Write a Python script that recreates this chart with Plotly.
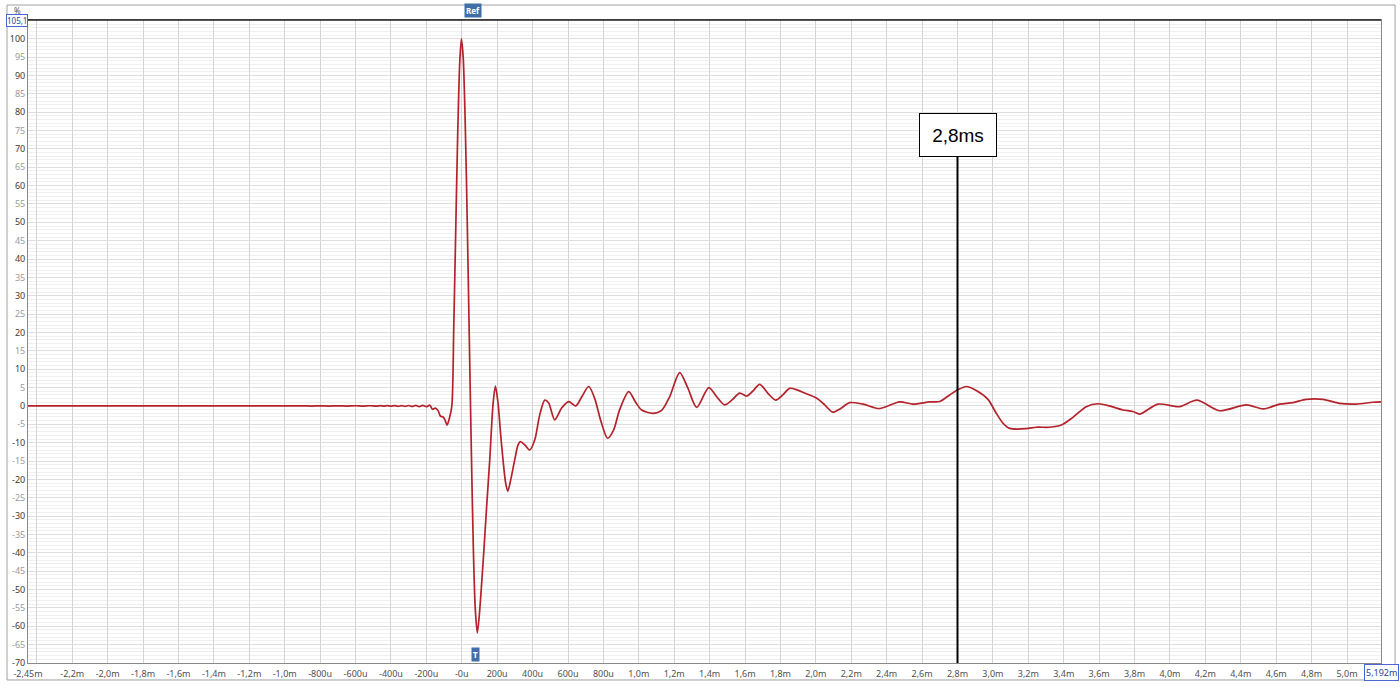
import plotly.graph_objects as go

# ---- data (time in ms, amplitude in %) ----
time_ms = [
    -2.45, -1.60, -1.20, -0.95, -0.90, -0.85, -0.80, -0.75, -0.70, -0.65, -0.60,
    -0.56, -0.52, -0.48, -0.46, -0.44, -0.42, -0.40, -0.38, -0.36, -0.34, -0.32,
    -0.30, -0.28, -0.26, -0.24, -0.22, -0.20, -0.18, -0.165, -0.15, -0.135,
    -0.12, -0.105, -0.095, -0.083, -0.068, -0.056, -0.045, -0.034, -0.023,
    -0.011, -0.002, 0.008, 0.020, 0.031, 0.042, 0.054, 0.065, 0.076, 0.088,
    0.099, 0.107, 0.124, 0.141, 0.158, 0.177, 0.190, 0.205, 0.220, 0.233,
    0.248, 0.260, 0.277, 0.299, 0.318, 0.331, 0.356, 0.384, 0.412, 0.440,
    0.469, 0.491, 0.525, 0.565, 0.604, 0.644, 0.678, 0.717, 0.751, 0.785,
    0.824, 0.858, 0.892, 0.943, 0.982, 1.016, 1.078, 1.129, 1.174, 1.231,
    1.276, 1.327, 1.395, 1.440, 1.485, 1.530, 1.569, 1.609, 1.643, 1.683,
    1.728, 1.773, 1.813, 1.852, 1.897, 1.937, 2.005, 2.050, 2.095, 2.140,
    2.191, 2.266, 2.360, 2.473, 2.548, 2.643, 2.699, 2.756, 2.802, 2.850,
    2.906, 2.972, 3.019, 3.057, 3.094, 3.188, 3.245, 3.320, 3.386, 3.452,
    3.527, 3.593, 3.659, 3.734, 3.790, 3.830, 3.932, 4.054, 4.152, 4.280,
    4.431, 4.529, 4.619, 4.694, 4.770, 4.864, 4.958, 5.052, 5.146, 5.192,
]
amplitude_pct = [
    0.0, 0.0, 0.0, 0.0, 0.03, -0.03, 0.03, -0.03, 0.04, -0.04, 0.05,
    -0.05, 0.06, -0.06, 0.07, -0.07, 0.08, -0.08, 0.1, -0.1, 0.1, -0.12,
    0.12, -0.15, 0.15, -0.18, 0.18, -0.2, 0.2, -0.9, -0.6, -1.2,
    -2.8, -3.0, -3.8, -5.2, -3.0, 0.0, 22.0, 48.0, 74.0,
    94.0, 100.0, 95.0, 76.0, 50.0, 20.0, -12.0, -38.0, -55.0, -61.8,
    -57.0, -52.0, -40.0, -27.0, -14.7, 0.7, 5.4, 0.7, -8.0, -14.7,
    -21.0, -23.2, -20.0, -14.7, -10.6, -9.7, -10.6, -12.0, -9.3, -2.5,
    1.6, 0.8, -3.8, -0.5, 1.2, 0.0, 2.5, 5.3, 2.0, -4.0,
    -8.8, -6.5, -1.0, 3.9, 1.0, -1.1, -2.0, -1.2, 2.5, 9.1,
    5.0, -0.4, 5.0, 2.5, 0.3, 1.8, 3.5, 2.7, 4.0, 5.9,
    3.5, 1.6, 3.0, 4.8, 4.3, 3.5, 2.1, 0.3, -1.7, -0.7,
    0.9, 0.5, -0.7, 1.1, 0.5, 1.1, 1.2, 3.0, 4.4, 5.3,
    4.2, 1.8, -2.0, -4.7, -6.1, -6.2, -5.8, -5.8, -5.2, -3.1,
    -0.2, 0.6, 0.0, -1.1, -1.5, -2.2, 0.5, -0.2, 1.6, -1.3,
    0.3, -0.8, 0.5, 0.9, 1.8, 1.8, 0.7, 0.5, 1.0, 1.1,
]

x_tick_vals = [-2.45, -2.4, -2.2, -2.0, -1.8, -1.6, -1.4, -1.2, -1.0, -0.8, -0.6,
               -0.4, -0.2, 0.0, 0.2, 0.4, 0.6, 0.8, 1.0, 1.2, 1.4, 1.6, 1.8,
               2.0, 2.2, 2.4, 2.6, 2.8, 3.0, 3.2, 3.4, 3.6, 3.8, 4.0, 4.2,
               4.4, 4.6, 4.8, 5.0]
x_tick_text = ["-2,45m", "", "-2,2m", "-2,0m", "-1,8m", "-1,6m", "-1,4m", "-1,2m",
               "-1,0m", "-800u", "-600u", "-400u", "-200u", "-0u", "200u", "400u",
               "600u", "800u", "1,0m", "1,2m", "1,4m", "1,6m", "1,8m", "2,0m",
               "2,2m", "2,4m", "2,6m", "2,8m", "3,0m", "3,2m", "3,4m", "3,6m",
               "3,8m", "4,0m", "4,2m", "4,4m", "4,6m", "4,8m", "5,0m"]
y_tick_vals = [-70, -65, -60, -55, -50, -45, -40, -35, -30, -25, -20, -15, -10, -5,
               0, 5, 10, 15, 20, 25, 30, 35, 40, 45, 50, 55, 60, 65, 70, 75, 80,
               85, 90, 95, 100]

x_range = [-2.45, 5.192]
y_range = [-70, 105.1]
marker_time = 2.8
marker_label = "2,8ms"
ref_time = 0.062
t_time = 0.079

# ---- figure ----
DARK = "#3c3c3c"
LIGHT = "#9a9a9a"
y_tick_text = [
    f"<span style='color:{DARK if v % 10 == 0 else LIGHT}'>{v}</span>" for v in y_tick_vals
]

fig = go.Figure()
fig.add_trace(go.Scatter(
    x=time_ms, y=amplitude_pct, mode="lines",
    line=dict(color="#b3232b", width=1.7, shape="spline", smoothing=0.8),
    hoverinfo="skip", showlegend=False,
))

fig.update_layout(
    width=1400, height=688,
    margin=dict(l=28, r=19, t=20, b=25, autoexpand=False),
    paper_bgcolor="white", plot_bgcolor="white",
    font=dict(family="Noto Sans, DejaVu Sans, sans-serif", size=9, color="#505050"),
    showlegend=False,
)
fig.update_xaxes(
    range=x_range, tickmode="array", tickvals=x_tick_vals, ticktext=x_tick_text,
    showgrid=True, gridcolor="#d4d4d4", gridwidth=1, automargin=False,
    zeroline=False, showline=True, linecolor="#8a8a8a", linewidth=1, mirror=True,
    ticks="", ticklen=0, ticklabelstandoff=2, tickfont=dict(size=9, color="#505050"),
)
fig.update_yaxes(
    range=y_range, tickmode="array", tickvals=y_tick_vals, ticktext=y_tick_text,
    showgrid=True, gridcolor="#dedede", gridwidth=1, automargin=False,
    minor=dict(tickmode="linear", tick0=0, dtick=1, showgrid=True,
               gridcolor="#f0f0f0", gridwidth=1),
    zeroline=False, showline=True, linecolor="#8a8a8a", linewidth=1, mirror=True,
    ticks="", ticklen=0, tickfont=dict(size=9),
)

# outer frame and dark top edge of plot
fig.add_shape(type="rect", xref="paper", yref="paper",
              x0=-0.0155, x1=1.0104, y0=-0.0264, y1=1.0233,
              line=dict(color="#a0a0a0", width=1), fillcolor="rgba(0,0,0,0)", layer="below")
fig.add_shape(type="line", xref="paper", yref="paper", x0=0, x1=1, y0=1, y1=1,
              line=dict(color="#202020", width=1.5))

# marker line with label box
fig.add_annotation(
    x=marker_time, y=y_range[0], xref="x", yref="y",
    text=marker_label, showarrow=True, arrowhead=0, arrowwidth=2, arrowcolor="#000000",
    ax=0, ay=-528, standoff=0,
    font=dict(family="Liberation Sans, Arial, sans-serif", size=19, color="#000000"),
    bgcolor="white", bordercolor="#000000", borderwidth=1, width=74, height=40,
)

# corner labels
fig.add_annotation(x=0, y=1, xref="paper", yref="paper", xanchor="right", yanchor="middle",
                   text="105,1", showarrow=False, font=dict(size=8, color="#2a3fa0"),
                   bgcolor="white", bordercolor="#4a66d0", borderwidth=1, borderpad=0)
fig.add_annotation(x=-0.004, y=1.003, xref="paper", yref="paper", xanchor="right",
                   yanchor="bottom", text="%", showarrow=False,
                   font=dict(size=8, color="#505050"))
fig.add_annotation(x=x_range[1], y=0, xref="x", yref="paper", xanchor="center",
                   yanchor="top", yshift=-1, text="5,192m", showarrow=False,
                   font=dict(size=9, color="#2a3fa0"), bgcolor="white",
                   bordercolor="#4a66d0", borderwidth=1, borderpad=1)

# Ref and T tags
fig.add_annotation(x=ref_time, y=1, xref="x", yref="paper", xanchor="center",
                   yanchor="bottom", yshift=2, text="<b>Ref</b>", showarrow=False,
                   font=dict(size=8, color="white"), bgcolor="#3f6fa6",
                   borderpad=1)
fig.add_annotation(x=t_time, y=0, xref="x", yref="paper", xanchor="center",
                   yanchor="bottom", yshift=1, text="<b>T</b>", showarrow=False,
                   font=dict(size=8, color="white"), bgcolor="#3f6fa6",
                   borderpad=1)

fig.write_html("out.html", config={"displayModeBar": False},
               post_script="document.body.style.margin='0';")
